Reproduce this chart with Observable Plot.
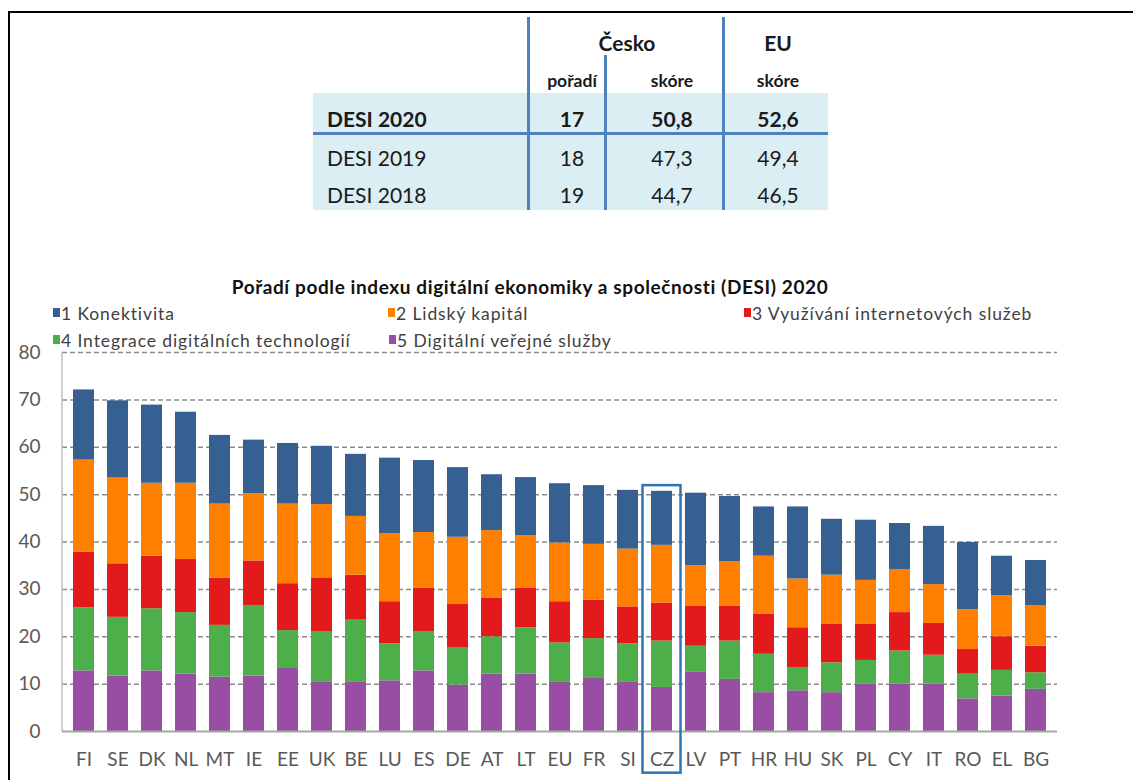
<!DOCTYPE html>
<html>
<head>
<meta charset="utf-8">
<script src="https://cdn.jsdelivr.net/npm/d3@7"></script>
<script src="https://cdn.jsdelivr.net/npm/@observablehq/plot@0.6"></script>
<style>
  html, body { margin: 0; padding: 0; background: #fff; }
  #page { position: relative; width: 1133px; height: 780px; overflow: hidden; font-family: Lato, "Open Sans", sans-serif; }
  .abs { position: absolute; }
  .c { transform: translate(-50%, -50%); white-space: nowrap; }
  .l { transform: translate(0, -50%); white-space: nowrap; }
</style>
</head>
<body>
<div id="page"></div>
<script>
// ---------- DATA ----------
const countries = ["FI","SE","DK","NL","MT","IE","EE","UK","BE","LU","ES","DE","AT","LT","EU","FR","SI","CZ","LV","PT","HR","HU","SK","PL","CY","IT","RO","EL","BG"];
const konektivita   = [14.8,16.3,16.5,15.0,14.5,11.3,12.8,12.3,13.1,15.9,15.2,14.7,11.8,12.3,12.5,12.4,12.4,11.4,15.3,13.8,10.4,15.2,11.8,12.7,9.7,12.3,14.2,8.3,9.5];
const lidskyKapital = [19.5,18.1,15.4,16.1,15.6,14.2,16.8,15.6,12.4,14.4,11.8,14.2,14.2,11.0,12.4,11.8,12.2,12.2,8.6,9.4,12.3,10.3,10.4,9.3,9.1,8.2,8.4,8.7,8.6];
const vyuzivani     = [11.7,11.3,11.1,11.2,10.0,9.4,9.9,11.2,9.5,8.9,9.1,9.2,8.2,8.4,8.7,8.1,7.8,8.0,8.4,7.3,8.4,8.4,8.1,7.6,8.1,6.7,5.2,7.1,5.6];
const integrace     = [13.3,12.4,13.1,13.0,10.9,14.9,8.0,10.6,13.0,7.8,8.3,7.8,7.9,9.8,8.2,8.4,8.0,9.8,5.4,8.1,8.1,4.9,6.3,5.0,7.0,6.1,5.2,5.4,3.5];
const verejne       = [12.8,11.7,12.8,12.1,11.5,11.7,13.3,10.5,10.5,10.7,12.8,9.8,12.1,12.1,10.5,11.2,10.5,9.3,12.6,11.0,8.2,8.6,8.2,10.0,10.0,10.0,6.9,7.5,8.9];

const seriesNames  = ["1 Konektivita","2 Lidský kapitál","3 Využívání internetových služeb","4 Integrace digitálních technologií","5 Digitální veřejné služby"];
const seriesColors = ["#366092","#ff8000","#e31a1c","#4daf4a","#984ea3"];
const yTicks = [0,10,20,30,40,50,60,70,80];
const highlightCountry = "CZ";

const chartTitle = "Pořadí podle indexu digitální ekonomiky a společnosti (DESI) 2020";

const tableRows   = ["DESI 2020","DESI 2019","DESI 2018"];
const czRank      = ["17","18","19"];
const czScore     = ["50,8","47,3","44,7"];
const euScore     = ["52,6","49,4","46,5"];
const tableHeader = ["Česko","EU"];
const tableSub    = ["pořadí","skóre","skóre"];

// ---------- PAGE ----------
const page = document.getElementById("page");
function el(tag, cls, style, text) {
  const e = document.createElement(tag);
  if (cls) e.className = cls;
  Object.assign(e.style, style);
  if (text != null) e.textContent = text;
  page.appendChild(e);
  return e;
}
// border
el("div", "abs", {left:"8px", top:"11px", width:"1130px", height:"780px", borderLeft:"2px solid #000", borderTop:"2.5px solid #000"});

// table
const lineBlue = "#4f81bd";
el("div", "abs", {left:"313px", top:"93px", width:"515px", height:"117px", background:"#dbeef4"});
el("div", "abs", {left:"313px", top:"132px", width:"515px", height:"3px", background:lineBlue});
el("div", "abs", {left:"527px", top:"17px", width:"3px", height:"193px", background:lineBlue});
el("div", "abs", {left:"604px", top:"55px", width:"3px", height:"155px", background:lineBlue});
el("div", "abs", {left:"722px", top:"17px", width:"3px", height:"193px", background:lineBlue});
const txt = "#1a1a1a";
el("div", "abs c", {left:"627px", top:"42px", fontSize:"21px", fontWeight:"bold", color:txt}, tableHeader[0]);
el("div", "abs c", {left:"778px", top:"42px", fontSize:"21px", fontWeight:"bold", color:txt}, tableHeader[1]);
const colX = [572, 672, 778];
tableSub.forEach((s,i) => el("div", "abs c", {left:colX[i]+"px", top:"80px", fontSize:"17.5px", fontWeight:"bold", color:txt}, s));
const rowY = [118, 157, 194];
tableRows.forEach((r,i) => {
  const fw = i === 0 ? "bold" : "normal";
  el("div", "abs l", {left:"327px", top:rowY[i]+"px", fontSize:"21px", fontWeight:fw, color:txt}, r);
  [czRank[i], czScore[i], euScore[i]].forEach((v,j) =>
    el("div", "abs c", {left:colX[j]+"px", top:rowY[i]+"px", fontSize:"21px", fontWeight:fw, color:txt}, v));
});

// chart title
el("div", "abs c", {left:"530px", top:"286px", fontSize:"19px", letterSpacing:"0.6px", fontWeight:"bold", color:"#111"}, chartTitle);

// legend
const legendPos = [[53,313],[388,313],[744,313],[53,340],[389,340]];
seriesNames.forEach((n,i) => {
  const [x,y] = legendPos[i];
  el("div", "abs", {left:x+"px", top:(y-5)+"px", width:"7px", height:"9px", background:seriesColors[i]});
  el("div", "abs l", {left:(x+8)+"px", top:y+"px", fontSize:"17.5px", letterSpacing:"0.9px", color:"#404040"}, n);
});

// ---------- CHART ----------
const series = [verejne, integrace, vyuzivani, lidskyKapital, konektivita];
const seriesIdx = [4,3,2,1,0];
const tidy = [];
countries.forEach((c,ci) => {
  series.forEach((arr,si) => tidy.push({country:c, component:seriesNames[seriesIdx[si]], value:arr[ci]}));
});
const totals = countries.map((c,i) => konektivita[i]+lidskyKapital[i]+vyuzivani[i]+integrace[i]+verejne[i]);
const hiTotal = totals[countries.indexOf(highlightCountry)];

const leftLine = (index, scales, values, dims) => {
  const ln = document.createElementNS("http://www.w3.org/2000/svg","line");
  ln.setAttribute("x1", dims.marginLeft); ln.setAttribute("x2", dims.marginLeft);
  ln.setAttribute("y1", scales.y(0)); ln.setAttribute("y2", scales.y(80));
  ln.setAttribute("stroke", "#bfbfbf"); ln.setAttribute("stroke-width", "1.5");
  return ln;
};

const chart = Plot.plot({
  width: 1133,
  height: 450,
  marginTop: 22,
  marginBottom: 49,
  marginLeft: 62,
  marginRight: 76,
  style: {fontFamily: "Lato, 'Open Sans', sans-serif", background: "transparent", overflow: "visible"},
  x: {domain: countries, paddingInner: 0.37, paddingOuter: 0.185, label: null},
  y: {domain: [0, 80], label: null},
  color: {domain: seriesNames, range: seriesColors},
  marks: [
    Plot.ruleY(yTicks.filter(d => d > 0), {stroke:"#8c8c8c", strokeWidth:1.5, strokeDasharray:"5,3"}),
    leftLine,
    Plot.barY(tidy, {x:"country", y:"value", fill:"component", order: null}),
    Plot.ruleY([0], {stroke:"#a6a6a6", strokeWidth:2}),
    Plot.barY([highlightCountry], {x: d => d, y1: -8.8, y2: hiTotal + 1.2, fill:"none", stroke:"#2e75b6", strokeWidth:2.5, insetLeft:-8.5, insetRight:-8.5}),
    Plot.axisY({ticks: yTicks, tickSize:0, tickPadding:22, fontSize:19, fill:"#595959", label:null}),
    Plot.axisX({tickSize:0, tickPadding:21, fontSize:19, fill:"#595959", label:null})
  ]
});
chart.style.position = "absolute";
chart.style.left = "0px";
chart.style.top = "330px";
page.appendChild(chart);
</script>
</body>
</html>
